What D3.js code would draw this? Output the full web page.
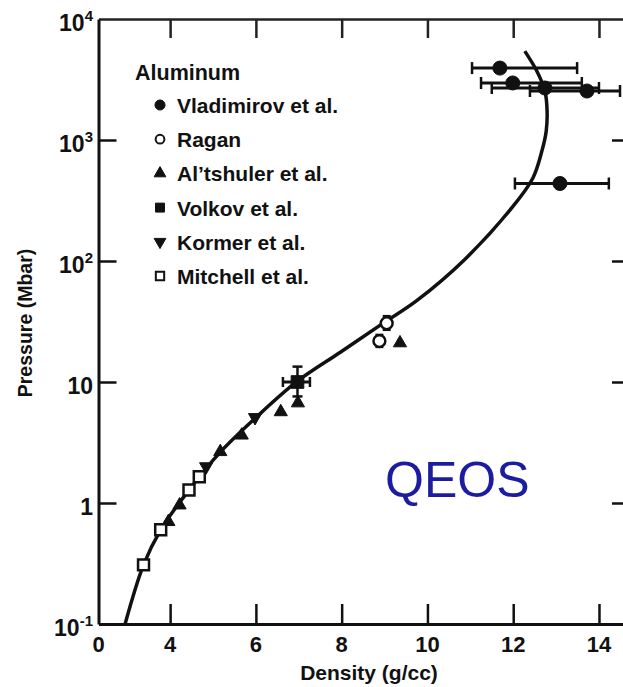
<!DOCTYPE html>
<html>
<head>
<meta charset="utf-8">
<script src="https://cdn.jsdelivr.net/npm/d3@7/dist/d3.min.js"></script>
<style>
html,body{margin:0;padding:0;background:#fff;}
svg{display:block;}
text{font-family:"Liberation Sans",Arial,Helvetica,sans-serif;font-weight:bold;fill:#111;}
</style>
</head>
<body>
<svg id="chart" width="623" height="687"></svg>
<script>
// ---------- data ----------
const xOrigin = 2.33;                       // broken axis origin (labelled "0")
const xTickValues = [xOrigin, 4, 6, 8, 10, 12, 14];
const xTickLabels = ["0", "4", "6", "8", "10", "12", "14"];
const yTickValues = [0.1, 1, 10, 100, 1000, 10000];
const yTickBase = ["10", "1", "10", "10", "10", "10"];
const yTickExp  = ["-1", "", "", "2", "3", "4"];

// QEOS Hugoniot curve
const qeosDensity  = [2.95, 3.38, 3.78, 4.44, 5.17, 5.98, 6.96, 7.97, 8.96, 9.75, 10.87, 11.97, 12.46, 12.67, 12.77, 12.79, 12.74, 12.55, 12.27];
const qeosPressure = [0.1, 0.308, 0.60, 1.28, 2.63, 5.0, 10.1, 17.6, 30.5, 47, 103, 276, 486, 814, 1188, 1740, 2540, 3720, 5430];

// Vladimirov et al. (filled circles, horizontal error bars)
const vladDensity  = [11.69, 11.99, 12.74, 13.72, 13.09];
const vladPressure = [3930, 2960, 2690, 2540, 437];
const vladXLow     = [11.04, 11.25, 11.50, 12.39, 12.04];
const vladXHigh    = [13.49, 13.60, 14.00, 14.49, 14.23];

// Ragan (open circles)
const raganDensity  = [9.05, 8.88];
const raganPressure = [30.6, 21.8];
const raganYLow     = [27, 19.5];
const raganYHigh    = [35, 24.5];

// Al'tshuler et al. (filled triangles)
const altDensity  = [3.96, 4.22, 5.17, 5.67, 6.58, 6.98, 9.36];
const altPressure = [0.70, 0.96, 2.65, 3.63, 5.66, 6.7, 21];

// Volkov et al. (filled square, error bars)
const volkovDensity  = [6.97];
const volkovPressure = [10.0];
const volkovXLow = [6.63], volkovXHigh = [7.26];
const volkovYLow = [7.6],  volkovYHigh = [13.4];

// Kormer et al. (inverted triangles)
const kormerDensity  = [4.84, 5.98];
const kormerPressure = [2.0, 5.1];

// Mitchell et al. (open squares)
const mitchDensity  = [3.38, 3.78, 4.44, 4.68];
const mitchPressure = [0.308, 0.60, 1.28, 1.65];

const legendTitle = "Aluminum";
const legendLabels = ["Vladimirov et al.", "Ragan", "Al\u2019tshuler et al.", "Volkov et al.", "Kormer et al.", "Mitchell et al."];
const annotation = "QEOS";

// ---------- scales ----------
const svg = d3.select("#chart");
const x = d3.scaleLinear().domain([xOrigin, 14.7]).range([98.5, 629]);
const y = d3.scaleLog().domain([0.1, 10000]).range([624, 19]);

// ---------- frame / axes ----------
const frame = svg.append("g");
const xAxis = d3.axisBottom(x).tickValues(xTickValues.slice(1)).tickSize(-20).tickSizeOuter(0).tickFormat("");
frame.append("g").attr("transform", `translate(0,${y(0.1)})`).call(xAxis)
  .call(g => { g.select(".domain").attr("stroke", "#111").attr("stroke-width", 3);
               g.selectAll(".tick line").attr("stroke", "#111").attr("stroke-width", 2.5); });
const xTop = d3.axisTop(x).tickValues(xTickValues.slice(1)).tickSize(-19).tickSizeOuter(0).tickFormat("");
frame.append("g").attr("transform", `translate(0,${y(10000)})`).call(xTop)
  .call(g => { g.select(".domain").attr("stroke", "#222").attr("stroke-width", 2.5);
               g.selectAll(".tick line").attr("stroke", "#222").attr("stroke-width", 2.5); });
const yAxis = d3.axisLeft(y).tickValues(yTickValues.slice(1, 5)).tickSize(-18).tickSizeOuter(0).tickFormat("");
frame.append("g").attr("transform", `translate(${x(xOrigin)},0)`).call(yAxis)
  .call(g => { g.select(".domain").attr("stroke", "#111").attr("stroke-width", 3);
               g.selectAll(".tick line").attr("stroke", "#111").attr("stroke-width", 2.5); });
const yRight = d3.axisRight(y).tickValues(yTickValues.slice(0, 5)).tickSize(-17).tickSizeOuter(0).tickFormat("");
frame.append("g").attr("transform", `translate(${x(14.7)},0)`).call(yRight)
  .call(g => { g.select(".domain").attr("stroke", "#111").attr("stroke-width", 3);
               g.selectAll(".tick line").attr("stroke", "#111").attr("stroke-width", 2.5); });

// x tick labels
frame.selectAll("text.xl").data(xTickValues).enter().append("text")
  .attr("x", d => x(d)).attr("y", 652).attr("text-anchor", "middle")
  .attr("font-size", 22).text((d, i) => xTickLabels[i]);

// y tick labels with superscripts
yTickValues.forEach((v, i) => {
  const t = frame.append("text").attr("x", 93).attr("y", y(v) + 12)
    .attr("text-anchor", "end").attr("font-size", 23);
  t.append("tspan").text(yTickBase[i]);
  if (yTickExp[i]) t.append("tspan").attr("font-size", 15).attr("dy", -10).text(yTickExp[i]);
});

// axis titles
svg.append("text").attr("x", 369).attr("y", 680).attr("text-anchor", "middle")
  .attr("font-size", 21).text("Density (g/cc)");
svg.append("text").attr("transform", "translate(32,323) rotate(-90)").attr("text-anchor", "middle")
  .attr("font-size", 19.5).text("Pressure (Mbar)");

// ---------- curve ----------
const plot = svg.append("g");
const line = d3.line().x(d => x(d[0])).y(d => y(d[1])).curve(d3.curveCatmullRom.alpha(0.5));
plot.append("path").datum(d3.zip(qeosDensity, qeosPressure)).attr("d", line)
  .attr("fill", "none").attr("stroke", "#111").attr("stroke-width", 3.5);

// ---------- error bars ----------
function hbar(d0, d1, p, cap) {
  plot.append("line").attr("x1", x(d0)).attr("x2", x(d1)).attr("y1", y(p)).attr("y2", y(p))
    .attr("stroke", "#111").attr("stroke-width", 3);
  [d0, d1].forEach(d => plot.append("line").attr("x1", x(d)).attr("x2", x(d))
    .attr("y1", y(p) - cap).attr("y2", y(p) + cap).attr("stroke", "#111").attr("stroke-width", 2.5));
}
function vbar(d, p0, p1, cap) {
  plot.append("line").attr("x1", x(d)).attr("x2", x(d)).attr("y1", y(p0)).attr("y2", y(p1))
    .attr("stroke", "#111").attr("stroke-width", 2.5);
  [p0, p1].forEach(p => plot.append("line").attr("x1", x(d) - cap).attr("x2", x(d) + cap)
    .attr("y1", y(p)).attr("y2", y(p)).attr("stroke", "#111").attr("stroke-width", 2.5));
}
vladDensity.forEach((d, i) => hbar(vladXLow[i], vladXHigh[i], vladPressure[i], 6));
volkovDensity.forEach((d, i) => { hbar(volkovXLow[i], volkovXHigh[i], volkovPressure[i], 5);
                                   vbar(d, volkovYLow[i], volkovYHigh[i], 5); });
raganDensity.forEach((d, i) => vbar(d, raganYLow[i], raganYHigh[i], 4));

// ---------- markers ----------
const sym = (type, size) => d3.symbol().type(type).size(size)();
function markers(dens, pres, type, size, filled, rot) {
  plot.selectAll(null).data(d3.zip(dens, pres)).enter().append("path")
    .attr("d", sym(type, size))
    .attr("transform", d => `translate(${x(d[0])},${y(d[1])})` + (rot ? " rotate(180)" : ""))
    .attr("fill", filled ? "#111" : "#fff").attr("stroke", "#111").attr("stroke-width", filled ? 1 : 2.5);
}
markers(vladDensity, vladPressure, d3.symbolCircle, 155, true);
markers(raganDensity, raganPressure, d3.symbolCircle, 110, false);
markers(altDensity, altPressure, d3.symbolTriangle, 75, true);
markers(volkovDensity, volkovPressure, d3.symbolSquare, 160, true);
markers(kormerDensity, kormerPressure, d3.symbolTriangle, 75, true, true);
markers(mitchDensity, mitchPressure, d3.symbolSquare, 120, false);

// ---------- legend ----------
const leg = svg.append("g");
leg.append("text").attr("x", 135).attr("y", 80).attr("font-size", 21.5).text(legendTitle);
const legTypes = [d3.symbolCircle, d3.symbolCircle, d3.symbolTriangle, d3.symbolSquare, d3.symbolTriangle, d3.symbolSquare];
const legFill  = [true, false, true, true, true, false];
const legRot   = [false, false, false, false, true, false];
const legSize  = [80, 60, 60, 80, 60, 70];
legendLabels.forEach((lab, i) => {
  const cy = 105 + i * 34.2;
  leg.append("path").attr("d", sym(legTypes[i], legSize[i]))
    .attr("transform", `translate(160,${cy})` + (legRot[i] ? " rotate(180)" : ""))
    .attr("fill", legFill[i] ? "#111" : "#fff").attr("stroke", "#111").attr("stroke-width", legFill[i] ? 1 : 2);
  leg.append("text").attr("x", 177).attr("y", cy + 8).attr("font-size", 21).text(lab);
});

// ---------- annotation ----------
svg.append("text").attr("x", 385).attr("y", 497).attr("font-size", 50)
  .style("font-weight", "normal").style("fill", "#1c1ca0").text(annotation);
</script>
</body>
</html>
